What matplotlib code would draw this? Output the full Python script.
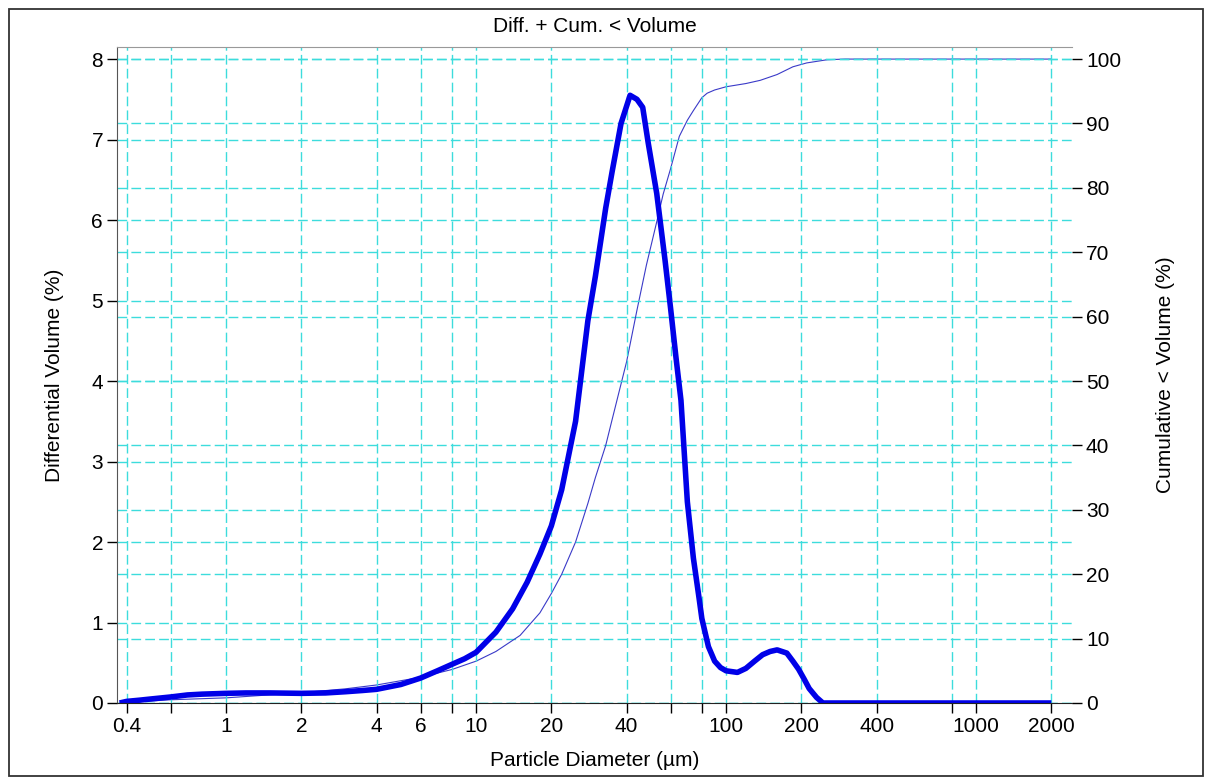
import numpy as np
import matplotlib
matplotlib.use("Agg")
import matplotlib.pyplot as plt
from matplotlib.ticker import FixedLocator, FixedFormatter
from matplotlib.patches import Rectangle

plt.rcParams['font.family'] = ['Liberation Sans', 'DejaVu Sans']

# diameters (um) and differential volume (%)
diam_diff = [0.375, 0.4, 0.45, 0.5, 0.6, 0.7, 0.8, 1.0, 1.2, 1.5, 2.0, 2.5, 3.0, 3.5,
             4.0, 5.0, 6.0, 7.0, 8.0, 9.0, 10, 12, 14, 16, 18, 20, 22, 25, 28, 30,
             33, 35, 38, 41.3, 44, 46.4, 48.8, 52.8, 57, 60, 63, 66, 70, 74, 78, 80,
             85, 90, 95, 100, 111, 120, 130, 140, 150, 160, 175, 185, 195, 205, 215,
             230, 244, 2000]
diff_vol = [0.0, 0.02, 0.035, 0.05, 0.075, 0.1, 0.11, 0.12, 0.125, 0.125, 0.12, 0.125, 0.14, 0.155,
            0.17, 0.23, 0.31, 0.4, 0.48, 0.55, 0.63, 0.88, 1.17, 1.5, 1.85, 2.2, 2.65, 3.5, 4.75, 5.3,
            6.15, 6.6, 7.2, 7.55, 7.5, 7.4, 6.96, 6.33, 5.5, 4.9, 4.3, 3.76, 2.5, 1.8, 1.3, 1.05,
            0.7, 0.52, 0.44, 0.4, 0.38, 0.43, 0.52, 0.6, 0.64, 0.66, 0.62, 0.52, 0.42, 0.3, 0.18,
            0.07, 0.0, 0.0]

# diameters (um) and cumulative < volume (%)
diam_cum = [0.375, 0.4, 0.6, 1.0, 2.0, 3.0, 4.0, 6.0, 8.0, 10, 12, 15, 18, 20, 22, 25,
            28, 30, 33, 35, 40, 44, 48, 53, 56, 60, 65, 70, 74, 80, 84, 90, 100, 120,
            137, 160, 185, 210, 254, 300, 2000]
cum_vol = [0.0, 0.1, 0.5, 0.8, 1.6, 2.2, 2.8, 4.0, 5.2, 6.5, 8.0, 10.5, 14, 17, 20, 25,
           31, 35, 40, 44, 53, 61, 68, 75, 79, 83, 88, 90.5, 92, 94, 94.7, 95.2, 95.7, 96.2,
           96.7, 97.6, 98.8, 99.4, 99.9, 100, 100]

xticks = [0.4, 0.6, 1, 2, 4, 6, 8, 10, 20, 40, 60, 80, 100, 200, 400, 800, 1000, 2000]
xticklabels = ['0.4', '', '1', '2', '4', '6', '', '10', '20', '40', '', '', '100',
               '200', '400', '', '1000', '2000']
left_ticks = [0, 1, 2, 3, 4, 5, 6, 7, 8]
right_ticks = [0, 10, 20, 30, 40, 50, 60, 70, 80, 90, 100]

grid_color = '#3ddcdc'
dash = (0, (7, 3))
fs = 15

fig = plt.figure(figsize=(12.12, 7.78), dpi=100)
ax = fig.add_axes([117 / 1212, 1 - 703 / 778, (1072 - 117) / 1212, (703 - 47) / 778])
ax2 = ax.twinx()

ax.set_xscale('log')
ax.set_xlim(0.366, 2420)
ax.set_ylim(0, 8.15)
ax2.set_ylim(0, 8.15 / 8 * 100)

# cumulative on the twin axis, drawn underneath
ax2.plot(diam_cum, cum_vol, color='#3a3ac8', lw=0.8)
ax2.yaxis.set_major_locator(FixedLocator(right_ticks))
ax2.grid(True, axis='y', color=grid_color, linestyle=dash, lw=1)

ax.set_zorder(ax2.get_zorder() + 1)
ax.patch.set_visible(False)
ax.plot(diam_diff, diff_vol, color='#0000e8', lw=4, solid_capstyle='butt',
        solid_joinstyle='round')

ax.xaxis.set_major_locator(FixedLocator(xticks))
ax.xaxis.set_major_formatter(FixedFormatter(xticklabels))
ax.xaxis.set_minor_locator(FixedLocator([]))
ax.yaxis.set_major_locator(FixedLocator(left_ticks))
ax.grid(True, axis='both', color=grid_color, linestyle=dash, lw=1)

for a in (ax, ax2):
    a.tick_params(direction='out', length=7, width=1, labelsize=fs, color='black', pad=3)
    a.spines['right'].set_visible(False)
ax2.spines['left'].set_visible(False)
ax2.spines['top'].set_visible(False)
ax2.spines['bottom'].set_visible(False)
ax.spines['left'].set_color('#555555')
ax.spines['top'].set_color('#999999')
ax.spines['bottom'].set_color('#222222')

ax.set_title('Diff. + Cum. < Volume', fontsize=fs, pad=11)
ax.set_xlabel('Particle Diameter (\u00b5m)', fontsize=fs, labelpad=11)
ax.set_ylabel('Differential Volume (%)', fontsize=fs, labelpad=20)
ax2.set_ylabel('Cumulative < Volume (%)', fontsize=fs, labelpad=25)

fig.patches.append(Rectangle((9 / 1212, 0.002), (1203 - 9) / 1212, 1 - 9 / 778 - 0.002,
                             transform=fig.transFigure, fill=False,
                             edgecolor='#333333', lw=1.3))

fig.savefig('out.png', dpi=100)
